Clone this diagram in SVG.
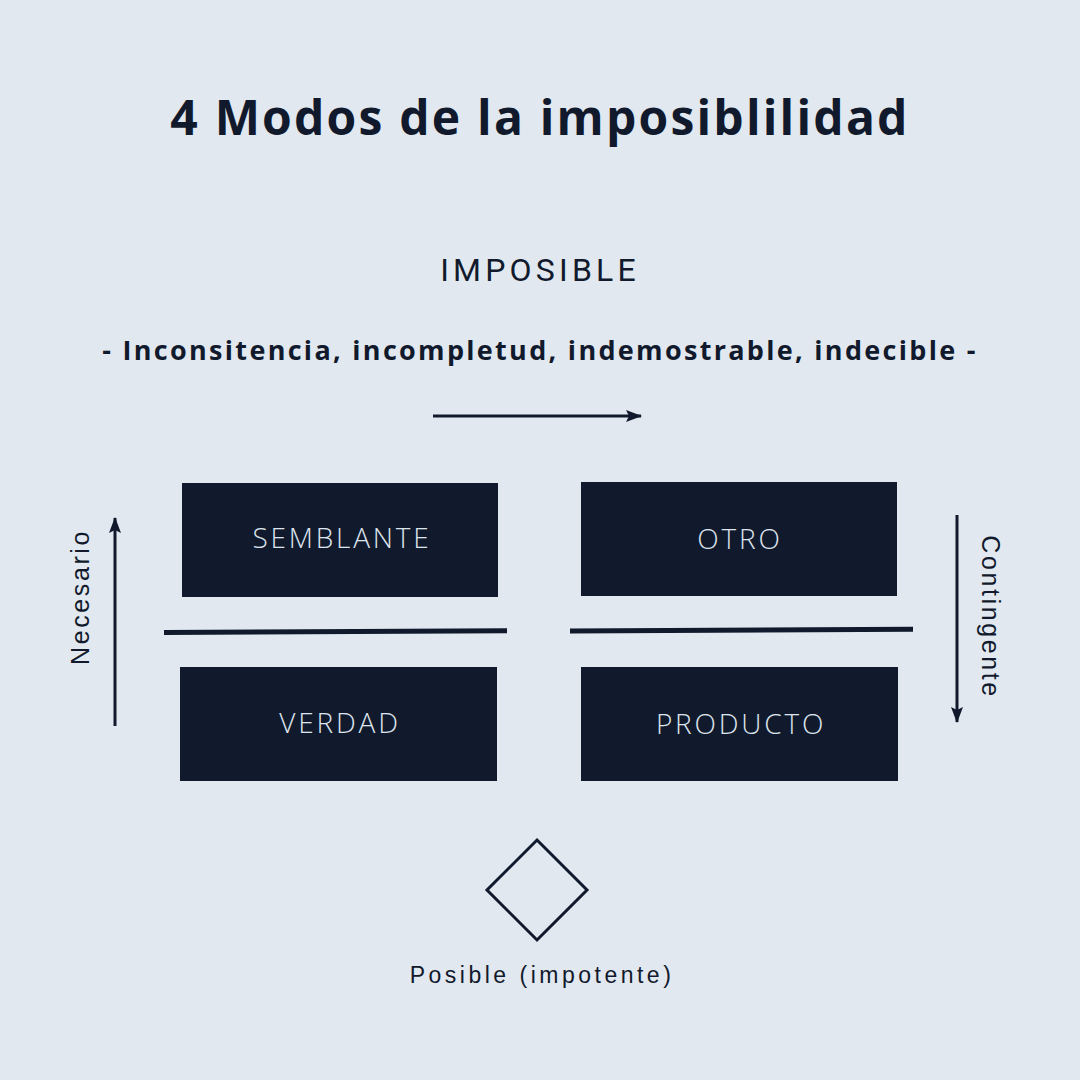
<svg xmlns="http://www.w3.org/2000/svg" width="1080" height="1080" viewBox="0 0 1080 1080">
<defs>
<marker id="ah" markerWidth="16" markerHeight="12" refX="15" refY="6" orient="auto" markerUnits="userSpaceOnUse">
<path d="M0,0 L16,6 L0,12 L3,6 Z" fill="#111a2c"/>
</marker>
</defs>
<style>
.box{fill:#111a2c;}
.bt{font-family:"Open Sans","Liberation Sans",sans-serif;font-size:28px;fill:#dde4ee;text-anchor:middle;letter-spacing:2.8px;font-weight:300;}
.ln{stroke:#111a2c;stroke-width:3;fill:none;}
.side{font-family:"Liberation Sans",Arial,sans-serif;font-size:25px;fill:#111a2c;text-anchor:middle;letter-spacing:2.6px;}
</style>
<rect width="1080" height="1080" fill="#e2e8f0"/>
<text x="540" y="135" font-family="Open Sans,Liberation Sans,sans-serif" font-weight="700" font-size="48" fill="#111a2c" text-anchor="middle" letter-spacing="2.2">4 Modos de la imposiblilidad</text>
<text x="540" y="281" font-family="Roboto,Liberation Sans,sans-serif" font-size="32" fill="#111a2c" text-anchor="middle" letter-spacing="4.2">IMPOSIBLE</text>
<text x="540" y="360" font-family="Open Sans,Liberation Sans,sans-serif" font-weight="700" font-size="27" fill="#111a2c" text-anchor="middle" letter-spacing="2.3">- Inconsitencia, incompletud, indemostrable, indecible -</text>
<g id="connectors">
<line class="ln" x1="433" y1="416" x2="641" y2="416" marker-end="url(#ah)"/>
<line class="ln" x1="115" y1="726" x2="115" y2="518" marker-end="url(#ah)"/>
<line class="ln" x1="957" y1="515" x2="957" y2="722" marker-end="url(#ah)"/>
<path d="M164 632.5 L507 630.7" stroke="#111a2c" stroke-width="5" fill="none"/>
<path d="M570 631 L913 629.3" stroke="#111a2c" stroke-width="5" fill="none"/>
</g>
<g id="semblante">
<rect class="box" x="182" y="483" width="316" height="114"/>
<text class="bt" x="342" y="548">SEMBLANTE</text>
</g>
<g id="otro">
<rect class="box" x="581" y="482" width="316" height="114"/>
<text class="bt" x="740" y="549">OTRO</text>
</g>
<g id="verdad">
<rect class="box" x="180" y="667" width="317" height="114"/>
<text class="bt" x="340" y="733">VERDAD</text>
</g>
<g id="producto">
<rect class="box" x="581" y="667" width="317" height="114"/>
<text class="bt" x="741" y="734">PRODUCTO</text>
</g>
<g id="necesario">
<text class="side" transform="translate(89 597) rotate(-90)">Necesario</text>
</g>
<g id="contingente">
<text class="side" transform="translate(982 617) rotate(90)">Contingente</text>
</g>
<g id="posible">
<path d="M537 840 L587 890 L537 940 L487 890 Z" fill="none" stroke="#111a2c" stroke-width="3"/>
<text x="542" y="983" font-family="Liberation Sans,Arial,sans-serif" font-size="23" fill="#111a2c" text-anchor="middle" letter-spacing="3.5">Posible (impotente)</text>
</g>
</svg>
